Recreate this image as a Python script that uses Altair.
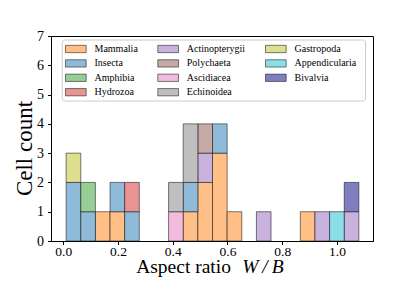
import altair as alt
import pandas as pd

# bin edges of the stacked histogram (20 bins)
bin_edges = [0.0088, 0.0623, 0.1157, 0.1692, 0.2226, 0.2761, 0.3296, 0.3830,
             0.4365, 0.4899, 0.5434, 0.5969, 0.6503, 0.7038, 0.7572, 0.8107,
             0.8642, 0.9176, 0.9711, 1.0245, 1.0780]

# stacking order (bottom to top) and legend order (column-major)
categories = ["Mammalia", "Insecta", "Amphibia", "Hydrozoa", "Actinopterygii",
              "Polychaeta", "Ascidiacea", "Echinoidea", "Gastropoda",
              "Appendicularia", "Bivalvia"]

colors = ["#ffbf86", "#8fbbd9", "#95cf95", "#ea9393", "#c9b3de",
          "#c5aaa5", "#f1bbde", "#bfbfbf", "#ddde90", "#8bdee7", "#7f7fbf"]

# counts per bin for each category
mammalia       = [0, 0, 1, 1, 0, 0, 0, 0, 1, 2, 3, 1, 0, 0, 0, 0, 1, 0, 0, 0]
insecta        = [2, 1, 0, 1, 1, 0, 0, 0, 1, 0, 1, 0, 0, 0, 0, 0, 0, 0, 0, 0]
amphibia       = [0, 1, 0, 0, 0, 0, 0, 0, 0, 0, 0, 0, 0, 0, 0, 0, 0, 0, 0, 0]
hydrozoa       = [0, 0, 0, 0, 1, 0, 0, 0, 0, 0, 0, 0, 0, 0, 0, 0, 0, 0, 0, 0]
actinopterygii = [0, 0, 0, 0, 0, 0, 0, 0, 0, 1, 0, 0, 0, 1, 0, 0, 0, 1, 0, 1]
polychaeta     = [0, 0, 0, 0, 0, 0, 0, 0, 0, 1, 0, 0, 0, 0, 0, 0, 0, 0, 0, 0]
ascidiacea     = [0, 0, 0, 0, 0, 0, 0, 1, 0, 0, 0, 0, 0, 0, 0, 0, 0, 0, 0, 0]
echinoidea     = [0, 0, 0, 0, 0, 0, 0, 1, 2, 0, 0, 0, 0, 0, 0, 0, 0, 0, 0, 0]
gastropoda     = [1, 0, 0, 0, 0, 0, 0, 0, 0, 0, 0, 0, 0, 0, 0, 0, 0, 0, 0, 0]
appendicularia = [0, 0, 0, 0, 0, 0, 0, 0, 0, 0, 0, 0, 0, 0, 0, 0, 0, 0, 1, 0]
bivalvia       = [0, 0, 0, 0, 0, 0, 0, 0, 0, 0, 0, 0, 0, 0, 0, 0, 0, 0, 0, 1]

series = [mammalia, insecta, amphibia, hydrozoa, actinopterygii, polychaeta,
          ascidiacea, echinoidea, gastropoda, appendicularia, bivalvia]

x_ticks = [0.0, 0.2, 0.4, 0.6, 0.8, 1.0]
y_ticks = [0, 1, 2, 3, 4, 5, 6, 7]

FONT = "Liberation Serif"

# ---------------- data table ----------------
rows = []
for k, (cat, counts) in enumerate(zip(categories, series)):
    for i, c in enumerate(counts):
        if c > 0:
            rows.append({"cat": cat, "lo": bin_edges[i], "hi": bin_edges[i + 1],
                         "count": c, "order": k})
df = pd.DataFrame(rows)

color_scale = alt.Scale(domain=categories, range=colors)

bars = alt.Chart(df).mark_bar(
    stroke="black", strokeOpacity=0.5, strokeWidth=1, binSpacing=0
).encode(
    x=alt.X("lo:Q", bin="binned",
            scale=alt.Scale(domain=[-0.0446, 1.1314], nice=False, zero=False),
            axis=alt.Axis(values=x_ticks, format=".1f", title=None,
                          labelPadding=0, labelFontSize=13.5)),
    x2="hi:Q",
    y=alt.Y("count:Q", stack="zero",
            scale=alt.Scale(domain=[0, 7], nice=False),
            axis=alt.Axis(values=y_ticks, format="d", title="Cell count",
                          titleFont=FONT, titleFontSize=23, titleFontWeight="normal",
                          titleColor="black", titleAngle=270, titleX=-20, titleY=112,
                          titleAlign="center", titleBaseline="alphabetic")),
    color=alt.Color("cat:N", scale=color_scale, legend=None),
    order=alt.Order("order:Q", sort="ascending"),
)

# ---------------- legend (3 columns, column-major like matplotlib) ----------------
LEG_ROWS = 4
col_left = [14.5, 106.8, 214.5]      # pixel offset of each legend column
row0, row_step = 13.0, 14.4          # first row centre and row spacing (px)
sym_w, sym_h, lab_gap = 20.7, 7.3, 8.3

leg_rows = []
for i, cat in enumerate(categories):
    c, r = divmod(i, LEG_ROWS)
    cy = row0 + row_step * r
    leg_rows.append({"cat": cat, "sx": col_left[c], "sx2": col_left[c] + sym_w,
                     "sy": cy - sym_h / 2, "sy2": cy + sym_h / 2,
                     "lx": col_left[c] + sym_w + lab_gap, "ly": cy})
leg_df = pd.DataFrame(leg_rows)

leg_box = alt.Chart(alt.Data(values=[{}])).mark_rect(
    fill="white", stroke="#cccccc", strokeWidth=1, cornerRadius=3
).encode(x=alt.value(11.2), x2=alt.value(314.5), y=alt.value(4), y2=alt.value(65))

leg_sym = alt.Chart(leg_df).mark_rect(
    stroke="black", strokeOpacity=0.5, strokeWidth=1
).encode(
    x=alt.X("sx:Q", scale=None), x2="sx2:Q",
    y=alt.Y("sy:Q", scale=None), y2="sy2:Q",
    color=alt.Color("cat:N", scale=color_scale, legend=None),
)

leg_lab = alt.Chart(leg_df).mark_text(
    align="left", baseline="middle", font=FONT, fontSize=10, color="black"
).encode(
    x=alt.X("lx:Q", scale=None), y=alt.Y("ly:Q", scale=None), text="cat:N"
)

# ---------------- x axis title with italic W/B ----------------
title_a = alt.Chart(alt.Data(values=[{}])).mark_text(
    text="Aspect ratio", align="left", baseline="alphabetic",
    font=FONT, fontSize=19.5, color="black"
).encode(x=alt.value(85.2), y=alt.value(236.5))

title_b = alt.Chart(alt.Data(values=[{}])).mark_text(
    text="W\u2009/\u2009B", align="left", baseline="alphabetic", fontStyle="italic",
    font=FONT, fontSize=19.5, color="black"
).encode(x=alt.value(191.2), y=alt.value(236.5))

chart = alt.layer(bars, leg_box, leg_sym, leg_lab, title_a, title_b).properties(
    width=322, height=205,
    autosize=alt.AutoSizeParams(type="none"),
    padding={"left": 43, "top": 28, "right": 20, "bottom": 45},
).configure_view(
    stroke="black", strokeWidth=1
).configure_axis(
    grid=False, domainColor="black", domainWidth=1, tickColor="black",
    tickWidth=1, tickSize=3.5, labelFont=FONT, labelFontSize=14,
    labelColor="black", labelPadding=4
)

chart.save("out.html", embed_options={"renderer": "svg", "actions": False})
